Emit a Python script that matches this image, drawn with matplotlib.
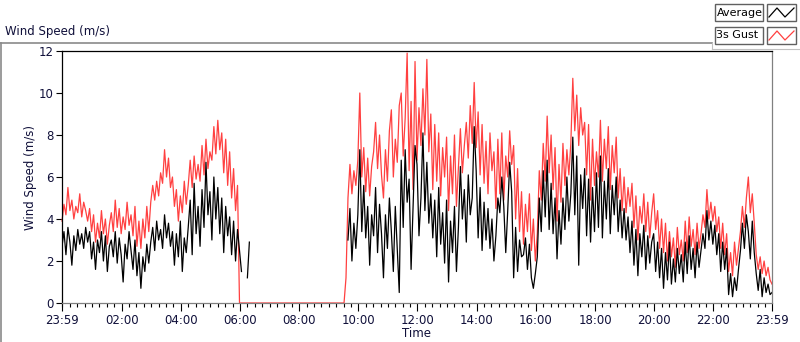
import numpy as np
import matplotlib.pyplot as plt
from matplotlib.lines import Line2D
from matplotlib.patches import Rectangle

# samples every 4 minutes, starting at 23:59
step_min = 4

gust = ([3.9, 4.7, 4.2, 5.5, 4.4, 4.9, 4.0, 4.6, 4.3, 5.2,
         4.1, 4.8, 4.4, 3.9, 4.5, 3.4, 4.2, 2.9, 3.8, 3.1,
         4.4, 3.3, 4.0, 2.8, 3.7, 4.3, 3.4, 4.9, 3.6, 4.5,
         3.3, 4.1, 3.5, 4.8, 3.7, 4.2, 3.2, 4.6, 2.7, 3.9,
         2.6, 4.0, 3.1, 4.6, 3.4, 4.8, 5.6, 4.9, 5.8, 5.1,
         6.2, 5.7, 7.3, 6.0, 6.9, 5.5, 6.0, 4.6, 5.4, 3.9,
         5.1, 4.3, 5.8, 4.7, 5.6, 6.8, 5.5, 7.0, 5.9, 6.6,
         5.8, 7.5, 6.1, 7.8, 6.4, 7.2, 6.8, 8.4, 7.1, 8.7,
         7.3, 8.1, 6.2, 7.8, 5.6, 7.2, 5.0, 6.4, 4.4, 5.6]
        + [0.0] * 54
        + [1.2, 5.0, 6.6, 5.2, 6.3, 5.6,
           6.8, 10.0, 6.0, 7.4, 5.3, 6.9, 5.1, 6.5, 7.2, 8.6,
           6.4, 8.0, 6.1, 5.0, 7.3, 5.8, 8.2, 9.2, 6.0, 7.8,
           6.7, 9.4, 10.0, 7.0, 8.8, 11.9, 6.3, 9.6, 5.4, 11.5,
           6.8, 9.3, 7.5, 10.2, 8.0, 11.6, 7.2, 9.0, 5.4, 8.5,
           5.8, 8.1, 5.1, 7.4, 6.0, 7.9, 4.4, 7.0, 5.2, 8.0,
           4.6, 6.5, 8.3, 6.2, 7.5, 8.6, 6.9, 9.4, 7.6, 10.5,
           7.4, 9.1, 6.1, 8.5, 5.7, 7.7, 5.2, 8.1, 6.3, 7.2,
           4.5, 7.8, 5.2, 8.1, 4.9, 7.0, 6.0, 8.2, 6.6, 7.5,
           4.0, 6.4, 3.4, 5.3, 2.8, 4.7, 3.4, 5.2, 2.5, 4.0,
           2.0, 3.3, 6.3, 4.9, 7.6, 5.8, 8.9, 6.2, 8.0, 5.4,
           7.4, 3.9, 6.6, 4.8, 7.6, 5.6, 7.3, 6.1, 7.6, 10.7,
           8.2, 9.9, 7.5, 9.3, 8.0, 8.6, 6.1, 8.5, 4.9, 7.8,
           5.6, 7.2, 6.0, 8.7, 5.8, 7.8, 6.4, 8.4, 5.4, 7.5,
           6.2, 7.9, 5.0, 6.4, 4.4, 6.0, 4.3, 5.5, 4.6, 5.7,
           3.6, 5.1, 3.0, 4.6, 3.8, 5.2, 3.4, 4.8, 3.1, 4.3,
           5.2, 3.5, 4.4, 2.6, 4.0, 2.4, 3.8, 2.0, 3.4, 2.2,
           3.1, 1.7, 3.6, 2.3, 3.0, 2.0, 3.9, 2.4, 4.1, 2.7,
           3.5, 2.3, 3.8, 2.6, 3.3, 4.2, 3.6, 5.4, 4.0, 4.8,
           3.9, 4.6, 3.4, 4.1, 2.6, 3.8, 2.3, 3.3, 1.5, 2.4,
           1.3, 2.9, 1.8, 2.6, 3.4, 4.6, 3.6, 5.0, 6.0, 4.3,
           5.2, 3.8, 2.3, 1.6, 2.2, 1.4, 2.0, 1.3, 1.7, 1.1, 0.9])

average = ([2.7, 3.4, 2.3, 3.6, 2.9, 1.8, 3.2, 2.5, 3.5, 2.8,
            3.3, 2.6, 3.6, 2.9, 3.4, 2.1, 2.9, 1.6, 3.0, 2.4,
            3.4, 2.0, 3.2, 1.5, 2.7, 3.0, 2.2, 3.4, 1.9, 3.1,
            2.3, 1.0, 2.8, 2.1, 3.4, 2.5, 1.6, 3.0, 1.3, 2.4,
            0.7, 2.2, 1.5, 2.8, 1.9, 2.9, 3.6, 2.5, 3.9, 3.0,
            3.5, 2.6, 4.2, 3.1, 3.8, 2.7, 3.4, 1.8, 3.3, 2.2,
            3.9, 1.5, 3.1, 2.4, 3.6, 4.9, 2.3, 5.7, 3.3, 4.6,
            2.7, 5.4, 3.6, 6.7, 4.2, 5.3, 3.0, 6.0, 4.0, 5.5,
            3.3, 5.0, 2.4, 4.6, 3.2, 4.1, 2.3, 3.9, 2.0, 3.5,
            2.5, 1.5, np.nan, np.nan, 1.2, 2.9]
           + [np.nan] * 49
           + [3.0, 4.5, 2.0, 3.8, 2.6,
              4.2, 7.3, 3.4, 5.6, 3.1, 4.6, 1.8, 4.2, 3.2, 5.5,
              2.4, 4.7, 3.3, 1.2, 4.2, 2.6, 5.0, 3.4, 1.5, 4.6,
              2.5, 0.5, 6.8, 3.6, 7.3, 4.8, 5.9, 1.6, 4.6, 7.5,
              6.6, 3.2, 5.0, 8.1, 4.4, 6.7, 3.8, 5.2, 3.1, 4.9,
              2.2, 5.5, 2.8, 4.3, 1.9, 4.9, 1.0, 3.9, 2.4, 4.6,
              1.5, 3.6, 6.5, 4.0, 5.4, 2.9, 6.1, 4.2, 5.0, 8.4,
              6.3, 3.1, 5.5, 2.5, 4.8, 3.0, 4.5, 2.6, 4.0, 2.0,
              3.2, 5.0, 4.3, 6.0, 4.6, 2.4, 4.4, 6.7, 5.3, 1.2,
              3.6, 1.5, 3.0, 2.2, 2.3, 3.1, 1.6, 2.8, 1.2, 0.7,
              1.4, 2.2, 5.0, 3.4, 6.3, 4.1, 6.8, 3.5, 5.7, 3.3,
              5.0, 2.1, 4.4, 2.8, 5.0, 3.5, 6.0, 3.9, 5.2, 7.9,
              4.2, 7.0, 1.8, 6.1, 4.5, 6.4, 3.2, 5.9, 2.9, 5.5,
              3.4, 6.2, 3.6, 7.0, 3.1, 5.8, 4.0, 6.4, 3.3, 5.6,
              4.2, 6.0, 3.4, 4.9, 3.1, 4.5, 3.0, 4.1, 2.4, 3.9,
              1.8, 3.5, 1.3, 3.3, 2.2, 3.7, 1.6, 3.2, 1.9, 2.9,
              3.3, 1.5, 2.9, 1.2, 2.6, 0.7, 2.4, 1.1, 2.9, 0.9,
              2.1, 1.0, 2.6, 1.4, 2.3, 1.0, 2.9, 1.4, 3.2, 1.6,
              2.6, 1.2, 2.9, 1.7, 2.5, 3.3, 2.6, 4.4, 3.0, 3.9,
              2.8, 3.7, 2.3, 3.3, 1.5, 2.9, 1.6, 2.6, 0.4, 1.4,
              0.3, 1.2, 0.6, 1.6, 2.5, 3.8, 2.6, 4.2, 3.4, 2.1,
              3.9, 2.4, 1.4, 0.6, 1.6, 0.3, 1.2, 0.5, 0.9, 0.4, 0.5])

tick_labels = ['23:59', '02:00', '04:00', '06:00', '08:00', '10:00',
               '12:00', '14:00', '16:00', '18:00', '20:00', '22:00', '23:59']

minutes = np.arange(len(gust)) * step_min
tick_pos = [0] + [121 + 120 * k for k in range(11)] + [1440]

txt = '#10103a'
red = '#ff4040'

fig = plt.figure(figsize=(8, 3.42), dpi=100)
ax = fig.add_axes([62 / 800, 1 - 303 / 342, 710 / 800, 252 / 342])

ax.plot(minutes, gust, color=red, lw=0.9, clip_on=False)
ax.plot(minutes, average, color='black', lw=0.9)

ax.set_xlim(0, 1440)
ax.set_ylim(0, 12)
ax.set_yticks(range(0, 13, 2))
ax.set_xticks(tick_pos)
ax.set_xticklabels(tick_labels)
ax.set_xticks([1 + 15 * k for k in range(96)], minor=True)
ax.tick_params(axis='both', labelsize=8.5, colors='black', labelcolor=txt,
               direction='out', width=0.8)
ax.tick_params(axis='x', which='major', length=6, pad=2)
ax.tick_params(axis='x', which='minor', length=3, width=0.8)
ax.tick_params(axis='y', length=4, pad=2)

ax.spines['top'].set_color('black')
ax.spines['left'].set_color('black')
ax.spines['right'].set_color('#808080')
ax.spines['bottom'].set_color('#808080')
for s in ax.spines.values():
    s.set_linewidth(0.9)

ax.set_ylabel('Wind Speed (m/s)', fontsize=8.5, color=txt, labelpad=1)
ax.set_xlabel('Time', fontsize=8.5, color=txt, labelpad=0)

# outer frame and title like the LabVIEW graph panel
fig.add_artist(Line2D([0, 712 / 800], [1 - 42.5 / 342] * 2, color='#8a8a8a', lw=1.2))
fig.add_artist(Line2D([1 / 800] * 2, [0, 1 - 42.5 / 342], color='#8a8a8a', lw=1.2))
fig.add_artist(Line2D([712 / 800, 1], [1 - 49 / 342] * 2, color='#c0c0c0', lw=0.8))
fig.add_artist(Line2D([712 / 800] * 2, [1 - 49 / 342, 1 - 42.5 / 342], color='#c0c0c0', lw=0.8))
fig.text(5 / 800, 1 - 32 / 342, 'Wind Speed (m/s)', fontsize=8.5, color=txt, va='center')

# legend boxes
for row, (name, col) in enumerate([('Average', 'black'), ('3s Gust', red)]):
    y0 = 4 + row * 23
    fig.add_artist(Rectangle((715 / 800, 1 - (y0 + 17) / 342), 48 / 800, 17 / 342,
                             facecolor='white', edgecolor='#606060', lw=1.0))
    fig.text(716.5 / 800, 1 - (y0 + 8.5) / 342, name, fontsize=8, color='black', va='center')
    fig.add_artist(Rectangle((767 / 800, 1 - (y0 + 17) / 342), 29 / 800, 17 / 342,
                             facecolor='white', edgecolor='#606060', lw=1.0))
    zx = [769, 777, 785, 794]
    zy = [y0 + 13, y0 + 4, y0 + 13, y0 + 4]
    fig.add_artist(Line2D([v / 800 for v in zx], [1 - v / 342 for v in zy],
                          color=col, lw=0.9))

fig.savefig('out.png', dpi=100)
